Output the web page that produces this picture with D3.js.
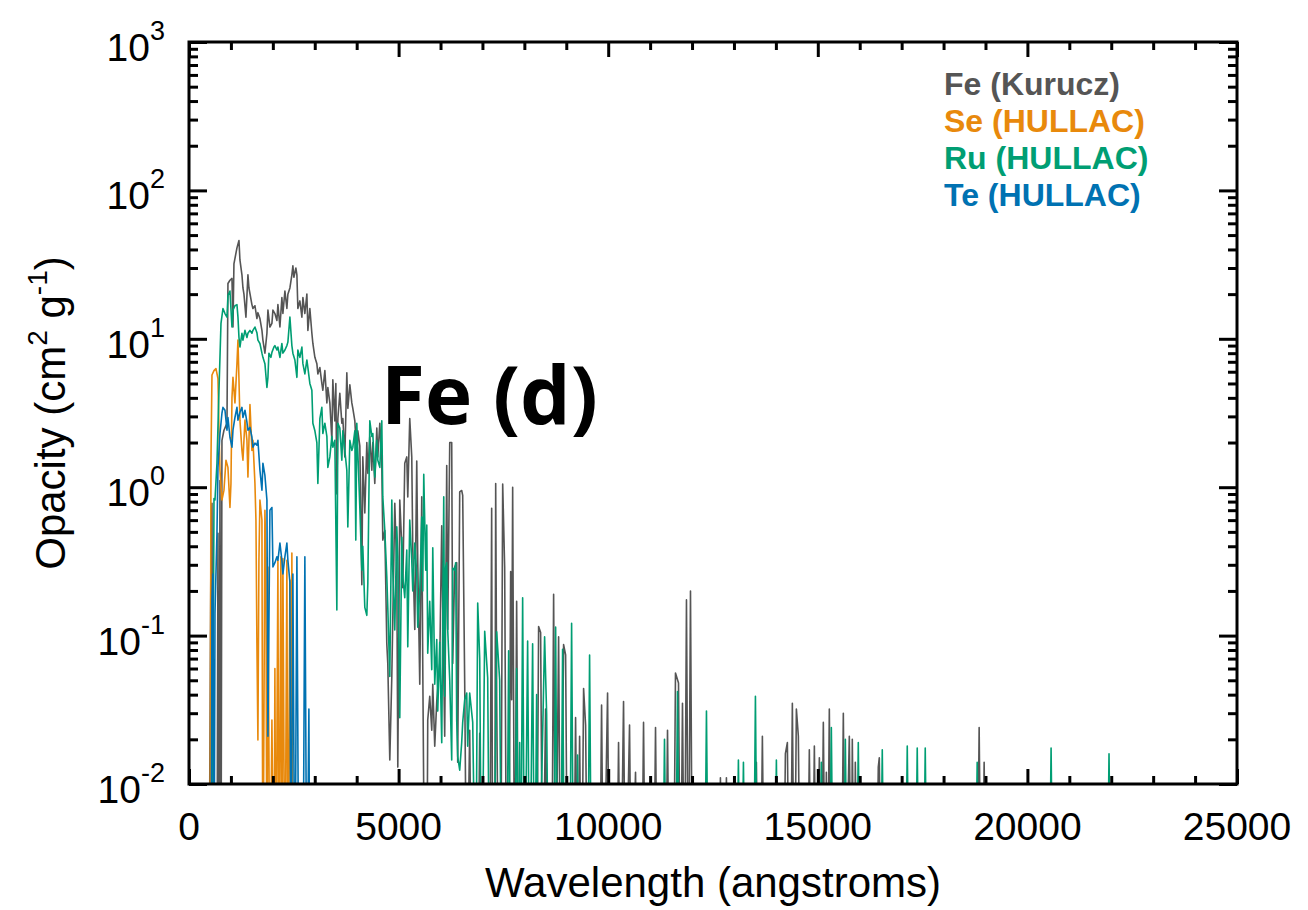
<!DOCTYPE html>
<html><head><meta charset="utf-8">
<script src="https://cdn.jsdelivr.net/npm/d3@7"></script>
<style>body{margin:0;background:#fff} svg{display:block}</style>
</head><body><svg id="chart" width="1308" height="910"></svg>
<script>
// ---- data: [wavelength (angstrom), opacity (cm^2/g)]; 0 = below plotted range ----
const feData = [[477,0],[524,0.40],[548,0.78],[572,0],[667,0],[691,0.49],[715,0],[739,1.11],[763,0],[786,2.07],[834,2.42],[882,2.6],[906,2.7],[929,23.6],[977,24.8],[1025,25.5],[1049,12],[1072,32],[1144,41],[1192,46],[1215,34],[1263,27],[1287,22],[1311,20],[1358,14],[1406,27],[1430,22],[1501,17],[1525,16],[1573,16.7],[1620,13.7],[1644,15],[1692,13.7],[1740,11.4],[1763,9.8],[1811,8],[1859,10.9],[1883,15.6],[1930,12],[1978,12.7],[2002,15.6],[2049,14.8],[2097,13.3],[2121,17],[2169,12],[2216,19],[2240,14.8],[2288,21],[2335,16],[2359,20],[2407,22],[2454,27],[2478,31],[2502,26],[2550,30],[2574,27],[2597,16],[2645,18],[2693,14],[2717,19],[2764,14.8],[2812,20],[2836,11.4],[2883,16],[2931,10.9],[2955,9.3],[3003,7.5],[3050,6.8],[3074,5.8],[3122,6.4],[3169,5.0],[3193,4.5],[3241,6.1],[3289,3.7],[3312,4.7],[3360,3.7],[3408,2.07],[3431,5.3],[3479,2.8],[3503,5.0],[3527,0.9],[3551,2.9],[3598,4.3],[3646,2.7],[3670,2.9],[3717,1.6],[3765,5.9],[3789,3.4],[3837,4.9],[3884,3.7],[3908,3.4],[3956,2.8],[4003,1.6],[4027,2.4],[4075,1.9],[4123,0.22],[4146,1.6],[4194,0.67],[4242,2.0],[4266,1.24],[4313,2.2],[4361,1.3],[4385,2.0],[4432,1.06],[4480,2.5],[4504,1.6],[4552,2.7],[4599,1.45],[4623,0.44],[4671,0.51],[4718,0.089],[4742,0.065],[4790,0.0145],[4838,0.053],[4909,0.78],[4957,0.276],[4981,0.013],[5028,0.82],[5076,0.4],[5100,0.21],[5147,1.45],[5195,1.6],[5219,0.86],[5266,2.9],[5314,1.6],[5338,0.38],[5386,0.11],[5433,1.5],[5457,0.31],[5505,0.047],[5552,0.86],[5576,0.065],[5624,0],[5672,0],[5695,0.027],[5743,0.039],[5791,0.023],[5815,0.047],[5862,0.018],[5910,0.036],[5981,0.065],[6029,0.55],[6053,0.155],[6100,0.021],[6148,1.4],[6172,0.11],[6220,2.0],[6267,2.0],[6291,0.065],[6339,0.29],[6386,0.31],[6410,0.014],[6458,0.93],[6505,0.95],[6529,0.88],[6577,0.047],[6625,0],[6696,0.023],[6744,0],[6887,0],[6935,0.022],[6982,0],[7173,0],[7220,0.72],[7244,0],[7292,0],[7316,1.06],[7340,0.037],[7387,0],[7435,0],[7483,1.05],[7530,0.29],[7578,0],[7625,0],[7673,0.27],[7697,0.037],[7721,1.0],[7768,0],[7816,0.17],[7864,0],[8293,0],[8340,0.115],[8388,0.105],[8436,0],[8507,0.032],[8555,0],[8650,0],[8698,0.19],[8746,0],[8817,0.098],[8865,0],[8936,0.087],[8984,0.074],[9032,0],[9175,0],[9222,0.028],[9270,0],[9318,0.021],[9365,0],[9413,0.044],[9461,0.025],[9508,0],[9794,0],[9842,0.034],[9889,0],[9985,0.041],[10032,0],[10199,0],[10247,0.019],[10294,0],[10366,0.036],[10413,0],[10509,0.025],[10557,0],[10652,0.012],[10700,0],[10795,0],[10843,0.026],[10890,0],[11081,0],[11129,0.024],[11176,0],[11367,0],[11415,0.023],[11462,0],[11558,0],[11605,0.056],[11677,0.048],[11724,0],[11772,0.035],[11820,0],[11867,0.174],[11915,0],[11963,0.2],[12010,0],[12630,0],[12677,0.011],[12725,0],[12772,0],[12820,0.011],[12868,0],[13488,0],[13535,0.014],[13583,0],[13630,0],[13678,0.021],[13726,0],[14180,0],[14227,0.016],[14274,0.019],[14322,0],[14345,0],[14393,0.035],[14441,0],[14489,0.032],[14536,0.021],[14584,0],[14750,0],[14798,0.017],[14846,0],[14870,0],[14918,0.018],[14966,0],[15037,0.015],[15085,0],[15132,0.026],[15180,0],[15204,0.012],[15228,0],[15275,0.032],[15323,0],[15561,0],[15609,0.03],[15657,0],[15752,0.021],[15800,0],[15823,0.02],[15871,0],[15895,0.014],[15942,0],[16395,0],[16443,0.013],[16467,0.015],[16515,0],[18801,0],[18849,0.024],[18897,0],[18920,0],[18968,0.014],[19016,0]];

const seData = [[500,0],[524,1.52],[548,5.7],[596,6.1],[643,6.3],[691,5.4],[715,2.42],[739,1.3],[786,0.82],[834,0.955],[882,1.52],[929,1.36],[977,0.73],[1001,1.06],[1025,4.0],[1049,5.5],[1096,3.7],[1144,6.8],[1168,9.8],[1192,5.3],[1215,2.83],[1263,1.77],[1287,1.52],[1335,2.83],[1382,2.07],[1406,1.17],[1454,3.6],[1501,1.77],[1525,2.07],[1573,1.06],[1597,0.6],[1620,0.089],[1644,0.0198],[1668,0.322],[1692,0.82],[1740,0.6],[1763,0],[1811,0.7],[1835,0.322],[1859,0],[1883,0.29],[1930,0],[1978,0.027],[2026,0],[2049,0.06],[2073,0],[2121,0.322],[2145,0],[2192,0.34],[2216,0],[2240,0.33],[2288,0],[2335,0.322],[2359,0],[2407,0.237],[2431,0],[2454,0.36],[2478,0]];

const ruData = [[548,0],[596,0.84],[620,0.82],[667,1.45],[715,4.5],[763,12.7],[810,16],[858,14.8],[906,14],[929,19.6],[977,21],[1025,12],[1049,15.6],[1096,16.7],[1144,17],[1168,14],[1192,10.2],[1215,8.8],[1263,10.9],[1287,9.8],[1335,11.4],[1382,10.2],[1406,10.9],[1454,11.4],[1501,10.9],[1525,11.4],[1573,12],[1620,11.0],[1644,9.8],[1692,9.3],[1740,8.0],[1763,7.5],[1811,6.8],[1859,4.7],[1883,5.5],[1906,8.0],[1954,7.5],[1978,8.1],[2026,8.8],[2049,9.0],[2097,8.4],[2121,8.8],[2169,7.5],[2216,9.3],[2240,8.0],[2288,8.4],[2335,9.0],[2359,9.5],[2407,14],[2454,9.0],[2478,8.0],[2526,7.2],[2574,5.5],[2597,8.4],[2645,7.5],[2693,8.8],[2717,6.8],[2764,5.8],[2812,7.2],[2836,6.4],[2883,5.0],[2931,4.5],[2955,2.7],[3003,2.4],[3050,2.0],[3074,1.06],[3122,2.9],[3169,3.45],[3193,2.3],[3241,2.7],[3289,2.2],[3312,1.36],[3360,1.6],[3408,2.2],[3431,1.86],[3479,2.07],[3527,0.149],[3551,2.7],[3598,2.5],[3646,1.52],[3670,2.4],[3717,1.77],[3765,1.3],[3789,0.54],[3837,2.07],[3884,1.77],[3908,1.86],[3956,2.4],[3979,0.44],[4003,2.7],[4075,0.73],[4123,0.276],[4146,0.4],[4194,0.155],[4242,0.137],[4266,0.226],[4313,2.8],[4361,2.2],[4385,2.3],[4432,1.17],[4480,2.07],[4504,1.52],[4552,1.36],[4599,2.8],[4623,0.86],[4671,0.51],[4718,0.25],[4742,0.155],[4790,0.053],[4838,0.82],[4861,0.276],[4909,0.109],[4957,0.54],[4981,0.34],[5028,0.028],[5076,0.46],[5100,0.25],[5147,0.18],[5195,0.377],[5219,0.084],[5266,0.6],[5314,0.322],[5338,0.2],[5386,0.42],[5433,0.26],[5457,0.114],[5505,0.2],[5552,0.63],[5576,0.2],[5600,1.22],[5648,0.276],[5672,0.555],[5695,0.076],[5743,0.17],[5791,0.059],[5815,0.39],[5862,0.047],[5910,0.094],[5934,0.031],[5981,0.09],[6029,0.019],[6077,0.86],[6100,0.039],[6124,0.29],[6148,0.31],[6172,0.109],[6220,0.05],[6267,0.0145],[6291,0.285],[6339,0.276],[6362,0.31],[6386,0.027],[6410,0.0153],[6458,0.0124],[6505,0.019],[6529,0.026],[6577,0.037],[6625,0.041],[6648,0.018],[6696,0.041],[6768,0.026],[6839,0],[6887,0.166],[6935,0.07],[6982,0],[7054,0.107],[7125,0.052],[7173,0],[7268,0],[7340,0.106],[7411,0.05],[7459,0],[7578,0],[7625,0.079],[7673,0],[7768,0],[7816,0.06],[7864,0],[7888,0.019],[7911,0],[7959,0.18],[8007,0],[8078,0.092],[8126,0],[8197,0.088],[8245,0],[8293,0.04],[8340,0],[8483,0.098],[8531,0.03],[8579,0],[8698,0],[8746,0.114],[8793,0],[8865,0],[8912,0.081],[8960,0],[9079,0],[9127,0.121],[9175,0],[9246,0],[9270,0.0157],[9294,0],[9508,0],[9556,0.074],[9604,0],[11295,0],[11343,0.02],[11391,0],[11605,0],[11653,0.042],[11700,0],[12296,0],[12344,0.031],[12392,0],[13058,0],[13106,0.0145],[13154,0],[13178,0],[13226,0.014],[13274,0],[13464,0],[13512,0.039],[13560,0],[13964,0],[14012,0.0145],[14060,0],[15037,0],[15085,0.014],[15132,0],[15275,0],[15323,0.024],[15371,0],[15609,0],[15657,0.02],[15705,0],[15918,0],[15966,0.019],[16014,0],[16490,0],[16538,0.017],[16586,0],[17086,0],[17134,0.018],[17182,0],[17324,0],[17372,0.0175],[17420,0],[17515,0],[17563,0.0175],[17611,0],[18754,0],[18802,0.014],[18850,0],[20517,0],[20565,0.0175],[20613,0],[21899,0],[21947,0.016],[21995,0]];

const teData = [[524,0],[548,0.174],[572,0.26],[596,0],[620,0.142],[667,0.49],[691,1.36],[739,2.3],[786,3.15],[810,3.45],[858,3.3],[906,2.42],[929,2.95],[977,2.17],[1025,1.86],[1049,2.42],[1096,2.95],[1144,3.45],[1168,2.83],[1215,3.2],[1263,3.45],[1287,2.95],[1335,3.3],[1382,2.74],[1406,2.42],[1454,2.53],[1501,2.17],[1525,1.86],[1573,1.98],[1620,1.92],[1644,2.07],[1692,1.3],[1740,0.955],[1763,1.45],[1811,1.2],[1859,0.82],[1883,0.021],[1930,0.7],[1978,0.73],[2002,0.29],[2049,0.31],[2097,0.34],[2121,0.322],[2169,0.42],[2216,0.322],[2240,0.26],[2288,0.34],[2335,0.42],[2359,0.322],[2407,0.23],[2431,0],[2478,0.26],[2526,0],[2574,0.34],[2621,0],[2717,0],[2764,0.34],[2812,0],[2860,0.032],[2883,0]];

const seriesNames = ["Fe (Kurucz)", "Se (HULLAC)", "Ru (HULLAC)", "Te (HULLAC)"];
const seriesColors = ["#555555", "#e8890c", "#009e73", "#0072b2"];
const xMajorTicks = [0, 5000, 10000, 15000, 20000, 25000];
const xTickLabels = ["0", "5000", "10000", "15000", "20000", "25000"];
const yExponents = [-2, -1, 0, 1, 2, 3];
const xTitle = "Wavelength (angstroms)";
const panelLabel = "Fe (d)";

// ---- layout ----
const L = 189, R = 1237, T = 42, B = 784;
const FONT = "'Liberation Sans', Arial, Helvetica, sans-serif";

const svg = d3.select("#chart");
const x = d3.scaleLinear().domain([0, 25000]).range([L, R]);
const y = d3.scaleLog().domain([1e-2, 1e3]).range([B, T]);

const xMinorTicks = d3.range(0, 25001, 1000).filter(v => v % 5000 !== 0);
const yMajorTicks = yExponents.map(e => Math.pow(10, e));
const yMinorTicks = [];
yExponents.slice(0, -1).forEach(e => { for (let m = 2; m <= 9; m++) yMinorTicks.push(m * Math.pow(10, e)); });

svg.append("defs").append("clipPath").attr("id", "plotclip")
  .append("rect").attr("x", L).attr("y", T).attr("width", R - L).attr("height", B - T);

// ---- series ----
const line = d3.line().x(d => x(d[0])).y(d => y(Math.max(d[1], 1e-3)));
const series = [feData, seData, ruData, teData];
const plot = svg.append("g").attr("clip-path", "url(#plotclip)");
series.forEach((data, i) => {
  plot.append("path").datum(data)
    .attr("d", line)
    .attr("fill", "none")
    .attr("stroke", seriesColors[i])
    .attr("stroke-width", 1.6)
    .attr("stroke-linejoin", "round");
});

// ---- axes (inward ticks on all sides) ----
function styleAxis(g) {
  g.select(".domain").remove();
  g.selectAll(".tick line").attr("stroke", "#000").attr("stroke-width", 3);
  g.selectAll(".tick text").remove();
}
const mk = (axis, vals, size) => axis.tickValues(vals).tickSizeInner(size).tickSizeOuter(0).tickFormat("");
svg.append("g").attr("transform", `translate(0,${B})`).call(mk(d3.axisBottom(x), xMajorTicks, -15)).call(styleAxis);
svg.append("g").attr("transform", `translate(0,${B})`).call(mk(d3.axisBottom(x), xMinorTicks, -8)).call(styleAxis);
svg.append("g").attr("transform", `translate(0,${T})`).call(mk(d3.axisTop(x), xMajorTicks, -15)).call(styleAxis);
svg.append("g").attr("transform", `translate(0,${T})`).call(mk(d3.axisTop(x), xMinorTicks, -8)).call(styleAxis);
svg.append("g").attr("transform", `translate(${L},0)`).call(mk(d3.axisLeft(y), yMajorTicks, -18)).call(styleAxis);
svg.append("g").attr("transform", `translate(${L},0)`).call(mk(d3.axisLeft(y), yMinorTicks, -9)).call(styleAxis);
svg.append("g").attr("transform", `translate(${R},0)`).call(mk(d3.axisRight(y), yMajorTicks, -18)).call(styleAxis);
svg.append("g").attr("transform", `translate(${R},0)`).call(mk(d3.axisRight(y), yMinorTicks, -9)).call(styleAxis);

// frame
svg.append("rect").attr("x", L).attr("y", T).attr("width", R - L).attr("height", B - T)
  .attr("fill", "none").attr("stroke", "#000").attr("stroke-width", 3);

// ---- tick labels ----
svg.append("g").selectAll("text").data(xMajorTicks).join("text")
  .attr("x", d => x(d)).attr("y", B + 56)
  .attr("text-anchor", "middle").attr("font-family", FONT).attr("font-size", 39)
  .attr("fill", "#000").text((d, i) => xTickLabels[i]);

const yl = svg.append("g").selectAll("text").data(yExponents).join("text")
  .attr("x", 165).attr("y", d => y(Math.pow(10, d)) + 19)
  .attr("text-anchor", "end").attr("font-family", FONT).attr("font-size", 39).attr("fill", "#000");
yl.append("tspan").text("10");
yl.append("tspan").attr("font-size", 27).attr("dy", -21).text(d => String(d));

// ---- axis titles ----
svg.append("text").attr("x", (L + R) / 2).attr("y", 897)
  .attr("text-anchor", "middle").attr("font-family", FONT).attr("font-size", 42).attr("fill", "#000")
  .text(xTitle);

const yt = svg.append("text").attr("transform", `translate(65,${(T + B) / 2}) rotate(-90)`)
  .attr("text-anchor", "middle").attr("font-family", FONT).attr("font-size", 42).attr("fill", "#000");
yt.append("tspan").text("Opacity (cm");
yt.append("tspan").attr("font-size", 28).attr("dy", -18).text("2");
yt.append("tspan").attr("dy", 18).text(" g");
yt.append("tspan").attr("font-size", 28).attr("dy", -18).text("-1");
yt.append("tspan").attr("dy", 18).text(")");

// ---- legend ----
svg.append("g").selectAll("text").data(seriesNames).join("text")
  .attr("x", 944).attr("y", (d, i) => 95 + i * 37)
  .attr("font-family", FONT).attr("font-weight", "bold").attr("font-size", 32)
  .attr("fill", (d, i) => seriesColors[i]).text(d => d);

// ---- panel label ----
svg.append("text").attr("x", 381).attr("y", 424)
  .attr("font-family", "'Open Sans', 'Noto Sans', sans-serif").attr("font-weight", "bold").attr("font-size", 80)
  .attr("fill", "#000").text(panelLabel);
</script></body></html>
